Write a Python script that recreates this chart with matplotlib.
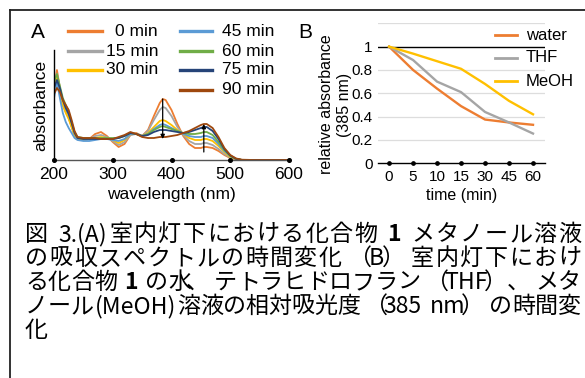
import matplotlib
matplotlib.use("Agg")
import matplotlib.pyplot as plt
from matplotlib.lines import Line2D
import numpy as np

# ---------------- data ----------------
wavelength = [200, 205, 210, 215, 220, 225, 230, 235, 240, 250, 260, 270, 280, 290, 300,
              310, 320, 330, 340, 350, 360, 370, 380, 385, 390, 400, 410, 420, 430, 440,
              450, 455, 460, 470, 480, 490, 500, 510, 520, 540, 560, 600]

abs_0 = [0.70, 0.90, 0.72, 0.55, 0.48, 0.42, 0.33, 0.24, 0.21, 0.20, 0.21, 0.26, 0.28, 0.24, 0.18,
         0.13, 0.16, 0.25, 0.27, 0.24, 0.30, 0.44, 0.57, 0.61, 0.60, 0.50, 0.36, 0.24, 0.16, 0.12,
         0.12, 0.13, 0.13, 0.12, 0.09, 0.05, 0.02, 0.005, 0.0, 0.0, 0.0, 0.0]
abs_15 = [0.72, 0.86, 0.72, 0.56, 0.49, 0.43, 0.34, 0.25, 0.21, 0.20, 0.21, 0.24, 0.25, 0.23, 0.19,
          0.15, 0.18, 0.25, 0.26, 0.24, 0.29, 0.40, 0.50, 0.53, 0.52, 0.44, 0.33, 0.25, 0.19, 0.16,
          0.16, 0.17, 0.17, 0.15, 0.11, 0.06, 0.025, 0.008, 0.0, 0.0, 0.0, 0.0]
abs_30 = [0.70, 0.82, 0.70, 0.55, 0.47, 0.41, 0.33, 0.25, 0.21, 0.20, 0.21, 0.22, 0.23, 0.22, 0.20,
          0.17, 0.20, 0.26, 0.26, 0.24, 0.27, 0.33, 0.39, 0.40, 0.39, 0.35, 0.30, 0.26, 0.22, 0.20,
          0.20, 0.21, 0.21, 0.19, 0.14, 0.08, 0.03, 0.01, 0.0, 0.0, 0.0, 0.0]
abs_45 = [0.62, 0.78, 0.62, 0.47, 0.38, 0.32, 0.27, 0.22, 0.20, 0.19, 0.19, 0.20, 0.21, 0.21, 0.20,
          0.19, 0.21, 0.26, 0.26, 0.24, 0.26, 0.31, 0.35, 0.36, 0.35, 0.32, 0.29, 0.26, 0.24, 0.23,
          0.23, 0.24, 0.24, 0.22, 0.16, 0.09, 0.04, 0.01, 0.0, 0.0, 0.0, 0.0]
abs_60 = [0.78, 0.86, 0.74, 0.62, 0.55, 0.48, 0.38, 0.28, 0.23, 0.22, 0.22, 0.22, 0.22, 0.22, 0.22,
          0.22, 0.24, 0.27, 0.26, 0.24, 0.26, 0.30, 0.33, 0.34, 0.33, 0.31, 0.29, 0.27, 0.26, 0.26,
          0.27, 0.28, 0.28, 0.25, 0.18, 0.10, 0.04, 0.01, 0.0, 0.0, 0.0, 0.0]
abs_75 = [0.72, 0.80, 0.72, 0.60, 0.52, 0.46, 0.37, 0.27, 0.22, 0.21, 0.21, 0.21, 0.21, 0.21, 0.21,
          0.22, 0.24, 0.27, 0.26, 0.24, 0.25, 0.28, 0.30, 0.30, 0.30, 0.29, 0.28, 0.27, 0.28, 0.30,
          0.32, 0.33, 0.33, 0.29, 0.21, 0.11, 0.045, 0.012, 0.0, 0.0, 0.0, 0.0]
abs_90 = [0.66, 0.72, 0.68, 0.60, 0.55, 0.50, 0.40, 0.29, 0.23, 0.22, 0.22, 0.22, 0.21, 0.21, 0.21,
          0.23, 0.25, 0.28, 0.26, 0.23, 0.22, 0.22, 0.23, 0.23, 0.23, 0.24, 0.25, 0.27, 0.29, 0.32,
          0.35, 0.36, 0.36, 0.32, 0.23, 0.12, 0.05, 0.015, 0.003, 0.0, 0.0, 0.0]

spectra = [abs_0, abs_15, abs_30, abs_45, abs_60, abs_75, abs_90]
spectra_labels = ["0 min", "15 min", "30 min", "45 min", "60 min", "75 min", "90 min"]
spectra_colors = ["#ED7D31", "#A5A5A5", "#FFC000", "#5B9BD5", "#70AD47", "#264478", "#9E480E"]
a_xticks = [200, 300, 400, 500, 600]

time_labels = ["0", "5", "10", "15", "30", "45", "60"]
rel_water = [1.0, 0.80, 0.64, 0.49, 0.375, 0.35, 0.33]
rel_thf = [1.0, 0.885, 0.70, 0.61, 0.44, 0.35, 0.255]
rel_meoh = [1.0, 0.94, 0.875, 0.81, 0.68, 0.535, 0.42]
b_series = [rel_water, rel_thf, rel_meoh]
b_labels = ["water", "THF", "MeOH"]
b_colors = ["#ED7D31", "#A5A5A5", "#FFC000"]
b_yticks = [0, 0.2, 0.4, 0.6, 0.8, 1.0]
b_yticklabels = ["0", "0.2", "0.4", "0.6", "0.8", "1"]

caption_lines = [
    "図 3.(A)室内灯下における化合物 1 メタノール溶液",
    "の吸収スペクトルの時間変化（B）室内灯下におけ",
    "る化合物 1 の水、テトラヒドロフラン（THF）、メタ",
    "ノール(MeOH)溶液の相対吸光度（385 nm）の時間変",
    "化",
]

# ---------------- figure ----------------
W, H = 585, 378
fig = plt.figure(figsize=(W / 100, H / 100), dpi=100)
fig.patch.set_facecolor("white")
SANS = ["Liberation Sans", "DejaVu Sans"]
CJK = ["Noto Sans CJK JP", "DejaVu Sans"]


def fx(x):
    return x / W


def fy(y):
    return 1 - y / H


def axes_px(left, top, right, bottom):
    return fig.add_axes([fx(left), fy(bottom), (right - left) / W, (bottom - top) / H])


# frame lines
fig.add_artist(Line2D([fx(10), fx(585)], [fy(10), fy(10)], color="#222222", lw=1.3))
fig.add_artist(Line2D([fx(10), fx(10)], [fy(10), fy(378)], color="#222222", lw=1.3))

# ---------------- panel A ----------------
axA = axes_px(54, 50, 289, 160)
for vals, col in zip(spectra, spectra_colors):
    axA.plot(wavelength, vals, color=col, lw=1.3, solid_joinstyle="round")
axA.set_xlim(200, 600)
axA.set_ylim(0, 1.1)
axA.set_yticks([])
axA.set_xticks(a_xticks)
axA.set_xticklabels([str(t) for t in a_xticks], fontsize=12.5, family=SANS)
axA.tick_params(axis="x", length=0, pad=5)
for s in ["top", "right"]:
    axA.spines[s].set_visible(False)
axA.spines["bottom"].set_color("#555555")
axA.spines["bottom"].set_linewidth(1.0)
axA.spines["left"].set_color("black")
axA.spines["left"].set_linewidth(1.0)
axA.plot(a_xticks, [0] * len(a_xticks), "o", color="black", ms=2.6, clip_on=False, zorder=5)
axA.set_xlabel("wavelength (nm)", fontsize=12.5, family=SANS, labelpad=4)
axA.set_ylabel("absorbance", fontsize=12.5, family=SANS, labelpad=4)
axA.patch.set_alpha(0)

# arrows
i385 = wavelength.index(385)
i455 = wavelength.index(455)
arrow_kw = dict(arrowstyle="-|>", color="black", lw=0.9, mutation_scale=6, shrinkA=0, shrinkB=0)
axA.annotate("", xy=(385, abs_90[i385] - 0.02), xytext=(385, abs_0[i385]), arrowprops=arrow_kw)
axA.annotate("", xy=(455, abs_90[i455]), xytext=(455, abs_0[i455] - 0.05), arrowprops=arrow_kw)

# legend A (manual, two columns)
colA = [(68, 102, 158), (180, 212, 274)]
rowsA = [31, 51, 70, 90]
for k, (lab, col) in enumerate(zip(spectra_labels, spectra_colors)):
    c = 0 if k < 3 else 1
    r = k if k < 3 else k - 3
    x0, x1, xt = colA[c]
    y = rowsA[r]
    fig.add_artist(Line2D([fx(x0), fx(x1)], [fy(y), fy(y)], color=col, lw=2.4))
    fig.text(fx(xt), fy(y), lab, ha="right", va="center", fontsize=12.5, family=SANS)

fig.text(fx(38), fy(33), "A", ha="center", va="center", fontsize=15, family=SANS)

# ---------------- panel B ----------------
axB = axes_px(378.3, 23.3, 545, 163.3)
x = np.arange(len(time_labels))
for yv in [0.2, 0.4, 0.6, 0.8, 1.2]:
    axB.axhline(yv, color="#DDDDDD", lw=0.9, zorder=0)
axB.axhline(1.0, color="black", lw=1.0, zorder=1)
for vals, col in zip(b_series, b_colors):
    axB.plot(x, vals, color=col, lw=1.7, zorder=3, solid_joinstyle="round")
axB.set_xlim(-0.45, 6.5)
axB.set_ylim(0, 1.2)
axB.set_xticks(x)
axB.set_xticklabels(time_labels, fontsize=11, family=SANS)
axB.set_yticks(b_yticks)
axB.set_yticklabels(b_yticklabels, fontsize=11, family=SANS)
axB.tick_params(axis="both", length=0)
axB.tick_params(axis="x", pad=5)
axB.tick_params(axis="y", pad=4)
for s in ["top", "right", "left"]:
    axB.spines[s].set_visible(False)
axB.spines["bottom"].set_color("black")
axB.spines["bottom"].set_linewidth(1.0)
axB.plot(x, [0] * len(x), "o", color="black", ms=2.4, clip_on=False, zorder=5)
axB.set_xlabel("time (min)", fontsize=11.5, family=SANS, labelpad=3)
axB.set_ylabel("relative absorbance\n(385 nm)", fontsize=11.5, family=SANS,
               linespacing=1.3)
axB.yaxis.set_label_coords(-0.155, 0.42)
axB.patch.set_alpha(0)

rowsB = [35, 58, 81]
for lab, col, y in zip(b_labels, b_colors, rowsB):
    fig.add_artist(Line2D([fx(495), fx(517)], [fy(y), fy(y)], color=col, lw=2.0))
    fig.text(fx(526), fy(y), lab, ha="left", va="center", fontsize=12, family=SANS)

fig.text(fx(305), fy(33), "B", ha="center", va="center", fontsize=15, family=SANS)

# ---------------- caption (justified, cell layout) ----------------
cap_fs = 16.6
em = cap_fs * 100 / 72
cap_left, cap_right = 25, 581
cap_base = [241, 265, 289, 313, 337]
renderer = fig.canvas.get_renderer()
# optical offset of the glyph centre inside its em cell (fraction of em)
cell_centre = {"、": 0.27, "。": 0.27, "（": 0.72, "）": 0.28}


def tokenize(line):
    toks = []
    i = 0
    while i < len(line):
        ch = line[i]
        if ch == " ":
            toks.append(("gap", None, 0.28 * em))
            i += 1
        elif ord(ch) < 128:
            j = i
            while j < len(line) and ord(line[j]) < 128 and line[j] != " ":
                j += 1
            run = line[i:j]
            weight = "bold" if run == "1" else "normal"
            t = fig.text(0, 0, run, fontsize=cap_fs, family=CJK, fontweight=weight)
            wpx = t.get_window_extent(renderer).width
            t.remove()
            toks.append(("ascii", run, wpx + 2.0))
            i = j
        else:
            toks.append(("cjk", ch, em))
            i += 1
    return toks


for li, (line, yb) in enumerate(zip(caption_lines, cap_base)):
    toks = tokenize(line)
    total = sum(t[2] for t in toks)
    justify = li < len(caption_lines) - 1 and len(toks) > 1
    extra = (cap_right - cap_left - total) / (len(toks) - 1) if justify else 0.0
    xc = cap_left
    for kind, s, wpx in toks:
        if kind == "cjk":
            fig.text(fx(xc + cell_centre.get(s, 0.5) * em), fy(yb), s, ha="center",
                     va="baseline", fontsize=cap_fs, family=CJK)
        elif kind == "ascii":
            weight = "bold" if s == "1" else "normal"
            fig.text(fx(xc + 1.0), fy(yb), s, ha="left", va="baseline",
                     fontsize=cap_fs, family=CJK, fontweight=weight)
        xc += wpx + extra

fig.savefig("out.png", dpi=100, facecolor="white")
